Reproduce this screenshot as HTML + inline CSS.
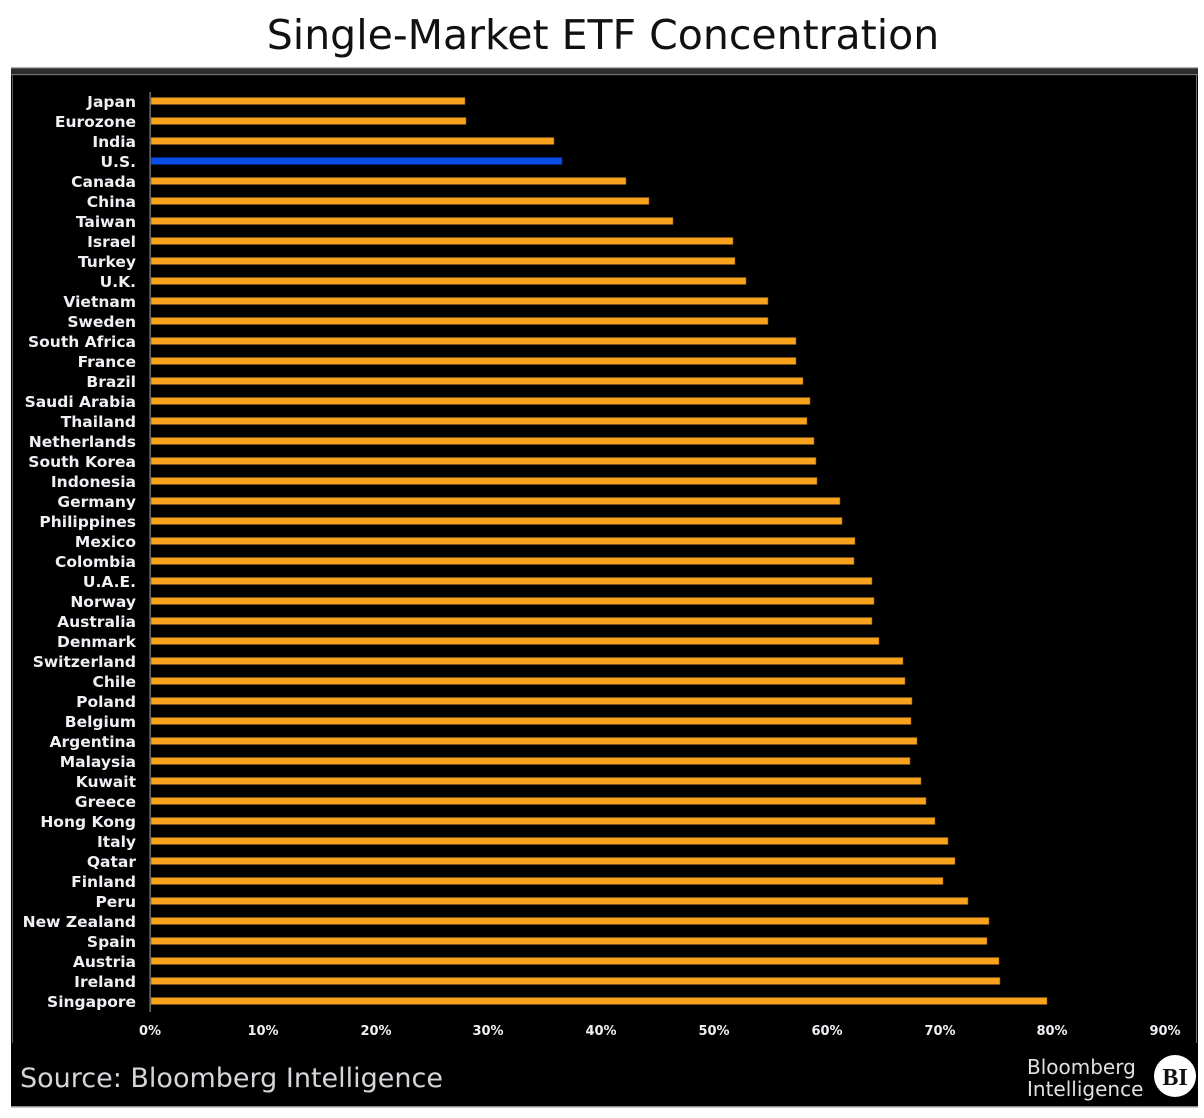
<!DOCTYPE html>
<html><head><meta charset="utf-8">
<style>
html,body{margin:0;padding:0;background:#fff;}
svg{display:block;}
</style></head>
<body>
<svg width="1204" height="1118" viewBox="0 0 1204 1118" xmlns="http://www.w3.org/2000/svg">
<rect x="0" y="0" width="1204" height="1118" fill="#ffffff"/>
<text x="603" y="49" text-anchor="middle" font-family="DejaVu Sans, sans-serif" font-size="41" fill="#111">Single-Market ETF Concentration</text>
<!-- panel -->
<rect x="11" y="67" width="1187" height="40" fill="#2a2a2a"/>
<rect x="11" y="68" width="1187" height="1039" fill="#000"/>
<rect x="11" y="67" width="1187" height="1.5" fill="#b0b0b0"/>
<rect x="11" y="69" width="1187" height="5" fill="#2c2c2c"/>
<rect x="11" y="74" width="1187" height="1.2" fill="#707070"/>
<rect x="12" y="75" width="1" height="968" fill="#606060"/>
<rect x="1196" y="75" width="1" height="968" fill="#707070"/>
<rect x="11" y="1106" width="1187" height="1.5" fill="#909090"/>
<!-- axis -->
<rect x="149.5" y="92" width="1.2" height="920" fill="#8a8a8a"/>
<g font-family="DejaVu Sans, sans-serif" font-weight="bold" font-size="15.5" fill="#eef0f4" text-anchor="end">
<text x="136" y="107">Japan</text>
<text x="136" y="127">Eurozone</text>
<text x="136" y="147">India</text>
<text x="136" y="167">U.S.</text>
<text x="136" y="187">Canada</text>
<text x="136" y="207">China</text>
<text x="136" y="227">Taiwan</text>
<text x="136" y="247">Israel</text>
<text x="136" y="267">Turkey</text>
<text x="136" y="287">U.K.</text>
<text x="136" y="307">Vietnam</text>
<text x="136" y="327">Sweden</text>
<text x="136" y="347">South Africa</text>
<text x="136" y="367">France</text>
<text x="136" y="387">Brazil</text>
<text x="136" y="407">Saudi Arabia</text>
<text x="136" y="427">Thailand</text>
<text x="136" y="447">Netherlands</text>
<text x="136" y="467">South Korea</text>
<text x="136" y="487">Indonesia</text>
<text x="136" y="507">Germany</text>
<text x="136" y="527">Philippines</text>
<text x="136" y="547">Mexico</text>
<text x="136" y="567">Colombia</text>
<text x="136" y="587">U.A.E.</text>
<text x="136" y="607">Norway</text>
<text x="136" y="627">Australia</text>
<text x="136" y="647">Denmark</text>
<text x="136" y="667">Switzerland</text>
<text x="136" y="687">Chile</text>
<text x="136" y="707">Poland</text>
<text x="136" y="727">Belgium</text>
<text x="136" y="747">Argentina</text>
<text x="136" y="767">Malaysia</text>
<text x="136" y="787">Kuwait</text>
<text x="136" y="807">Greece</text>
<text x="136" y="827">Hong Kong</text>
<text x="136" y="847">Italy</text>
<text x="136" y="867">Qatar</text>
<text x="136" y="887">Finland</text>
<text x="136" y="907">Peru</text>
<text x="136" y="927">New Zealand</text>
<text x="136" y="947">Spain</text>
<text x="136" y="967">Austria</text>
<text x="136" y="987">Ireland</text>
<text x="136" y="1007">Singapore</text>
</g>
<g fill="#F9A31C" stroke="#7a5012" stroke-width="0.6">
<rect x="151" y="97.5" width="314" height="7"/>
<rect x="151" y="117.5" width="315" height="7"/>
<rect x="151" y="137.5" width="403" height="7"/>
<rect x="151" y="177.5" width="475" height="7"/>
<rect x="151" y="197.5" width="498" height="7"/>
<rect x="151" y="217.5" width="522" height="7"/>
<rect x="151" y="237.5" width="582" height="7"/>
<rect x="151" y="257.5" width="584" height="7"/>
<rect x="151" y="277.5" width="595" height="7"/>
<rect x="151" y="297.5" width="617" height="7"/>
<rect x="151" y="317.5" width="617" height="7"/>
<rect x="151" y="337.5" width="645" height="7"/>
<rect x="151" y="357.5" width="645" height="7"/>
<rect x="151" y="377.5" width="652" height="7"/>
<rect x="151" y="397.5" width="659" height="7"/>
<rect x="151" y="417.5" width="656" height="7"/>
<rect x="151" y="437.5" width="663" height="7"/>
<rect x="151" y="457.5" width="665" height="7"/>
<rect x="151" y="477.5" width="666" height="7"/>
<rect x="151" y="497.5" width="689" height="7"/>
<rect x="151" y="517.5" width="691" height="7"/>
<rect x="151" y="537.5" width="704" height="7"/>
<rect x="151" y="557.5" width="703" height="7"/>
<rect x="151" y="577.5" width="721" height="7"/>
<rect x="151" y="597.5" width="723" height="7"/>
<rect x="151" y="617.5" width="721" height="7"/>
<rect x="151" y="637.5" width="728" height="7"/>
<rect x="151" y="657.5" width="752" height="7"/>
<rect x="151" y="677.5" width="754" height="7"/>
<rect x="151" y="697.5" width="761" height="7"/>
<rect x="151" y="717.5" width="760" height="7"/>
<rect x="151" y="737.5" width="766" height="7"/>
<rect x="151" y="757.5" width="759" height="7"/>
<rect x="151" y="777.5" width="770" height="7"/>
<rect x="151" y="797.5" width="775" height="7"/>
<rect x="151" y="817.5" width="784" height="7"/>
<rect x="151" y="837.5" width="797" height="7"/>
<rect x="151" y="857.5" width="804" height="7"/>
<rect x="151" y="877.5" width="792" height="7"/>
<rect x="151" y="897.5" width="817" height="7"/>
<rect x="151" y="917.5" width="838" height="7"/>
<rect x="151" y="937.5" width="836" height="7"/>
<rect x="151" y="957.5" width="848" height="7"/>
<rect x="151" y="977.5" width="849" height="7"/>
<rect x="151" y="997.5" width="896" height="7"/>
</g>
<rect x="151" y="157.5" width="411" height="7" fill="#0A4FEA" stroke="#06287a" stroke-width="0.6"/>
<g font-family="DejaVu Sans, sans-serif" font-weight="bold" font-size="13" fill="#eef0f4" text-anchor="middle">
<text x="150" y="1035">0%</text>
<text x="263" y="1035">10%</text>
<text x="376" y="1035">20%</text>
<text x="488" y="1035">30%</text>
<text x="601" y="1035">40%</text>
<text x="714" y="1035">50%</text>
<text x="827" y="1035">60%</text>
<text x="940" y="1035">70%</text>
<text x="1052" y="1035">80%</text>
<text x="1165" y="1035">90%</text>
</g>
<text x="20" y="1087" font-family="DejaVu Sans, sans-serif" font-size="27" fill="#d4d6da">Source: Bloomberg Intelligence</text>
<g font-family="DejaVu Sans, sans-serif" font-size="20" fill="#e0e0e0">
<text x="1027" y="1074">Bloomberg</text>
<text x="1027" y="1096">Intelligence</text>
</g>
<circle cx="1175" cy="1076" r="21" fill="#ffffff"/>
<text x="1175" y="1085" text-anchor="middle" font-family="Liberation Serif, serif" font-weight="bold" font-size="24" fill="#111">BI</text>
</svg>
</body></html>
